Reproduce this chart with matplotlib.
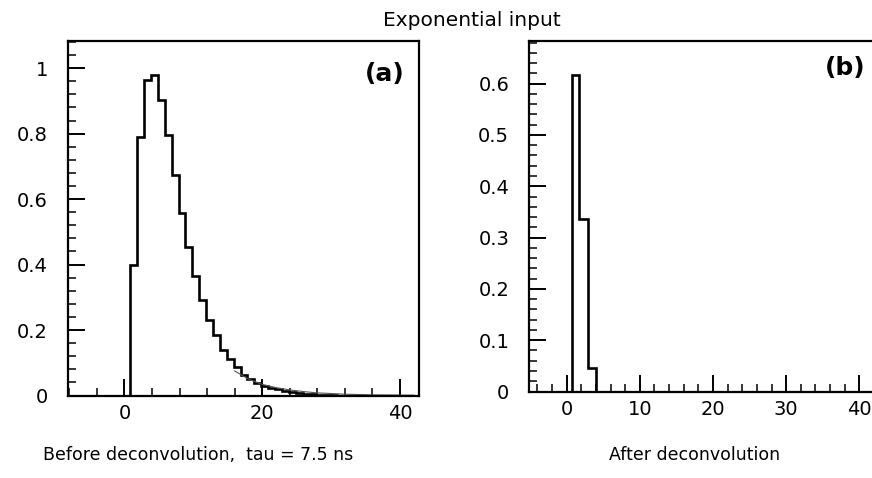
import numpy as np
import matplotlib
matplotlib.use('Agg')
import matplotlib.pyplot as plt
from matplotlib.ticker import MultipleLocator, FixedLocator

plt.rcParams['font.family'] = ['DejaVu Sans']

# panel (a): before deconvolution, bins of width 1
a_start = 0.85
a_heights = [0.40, 0.79, 0.965, 0.98, 0.904, 0.797, 0.675, 0.558, 0.454, 0.366,
             0.293, 0.230, 0.186, 0.140, 0.110, 0.088, 0.064, 0.049, 0.039, 0.029,
             0.024, 0.019, 0.015, 0.011, 0.008, 0.006, 0.004, 0.003, 0.002, 0.001,
             0.0]
# thin smooth curve visible on the tail
curve_x = [16, 18, 20, 22, 24, 26, 28, 32, 36, 42]
curve_y = [0.075, 0.05, 0.034, 0.024, 0.017, 0.012, 0.008, 0.004, 0.002, 0.001]

# panel (b): after deconvolution
b_edges = [0.7, 1.75, 2.9, 4.05, 5.2]
b_heights = [0.616, 0.337, 0.045, 0.0]

a_yticks = [0, 0.2, 0.4, 0.6, 0.8, 1.0]
a_ylabels = ['0', '0.2', '0.4', '0.6', '0.8', '1']
a_xticks = [0, 20, 40]
b_yticks = [0, 0.1, 0.2, 0.3, 0.4, 0.5, 0.6]
b_ylabels = ['0', '0.1', '0.2', '0.3', '0.4', '0.5', '0.6']
b_xticks = [0, 10, 20, 30, 40]

W, H = 872, 478
fig = plt.figure(figsize=(W / 100, H / 100), dpi=100)


def px_axes(left, top, right, bottom):
    return fig.add_axes([left / W, 1 - bottom / H, (right - left) / W, (bottom - top) / H])


def fig_text(x, y, s, **kw):
    fig.text(x / W, 1 - y / H, s, ha='center', va='center', **kw)


def style(ax):
    for s in ax.spines.values():
        s.set_linewidth(1.6)
    ax.tick_params(which='both', direction='in', top=False, right=False, labelsize=14)
    ax.tick_params(which='major', length=12, width=1.4)
    ax.tick_params(which='minor', length=5.5, width=1.1)
    ax.tick_params(axis='y', which='major', pad=14.5)
    ax.tick_params(axis='x', which='major', pad=6)


# ---- panel (a)
ax1 = px_axes(68, 41, 419.3, 395.5)
edges_a = a_start + np.arange(len(a_heights) + 1)
ax1.stairs(a_heights, edges_a, color='black', linewidth=1.9)
ax1.plot(curve_x, curve_y, color='#555555', linewidth=0.8)
ax1.set_xlim(-8.2, 42.8)
ax1.set_ylim(0, 1.083)
ax1.xaxis.set_major_locator(FixedLocator(a_xticks))
ax1.xaxis.set_minor_locator(MultipleLocator(4))
ax1.set_yticks(a_yticks, a_ylabels)
ax1.yaxis.set_minor_locator(MultipleLocator(0.04))
style(ax1)

# ---- panel (b)  (right border runs past the image edge)
ax2 = px_axes(529.3, 40.5, 896, 391.5)
ax2.stairs(b_heights, b_edges, color='black', linewidth=1.9)
ax2.set_xlim(-5.1, 45)
ax2.set_ylim(0, 0.684)
ax2.xaxis.set_major_locator(FixedLocator(b_xticks))
ax2.xaxis.set_minor_locator(MultipleLocator(2))
ax2.set_yticks(b_yticks, b_ylabels)
ax2.yaxis.set_minor_locator(MultipleLocator(0.02))
style(ax2)

fig_text(385, 74, '(a)', fontsize=18, fontweight='bold')
fig_text(845, 68, '(b)', fontsize=18, fontweight='bold')
fig_text(472, 20, 'Exponential input', fontsize=14.5)
fig_text(198, 455, 'Before deconvolution,  tau = 7.5 ns', fontsize=12.5)
fig_text(695, 455, 'After deconvolution', fontsize=12.5)

fig.savefig('out.png', dpi=100)
